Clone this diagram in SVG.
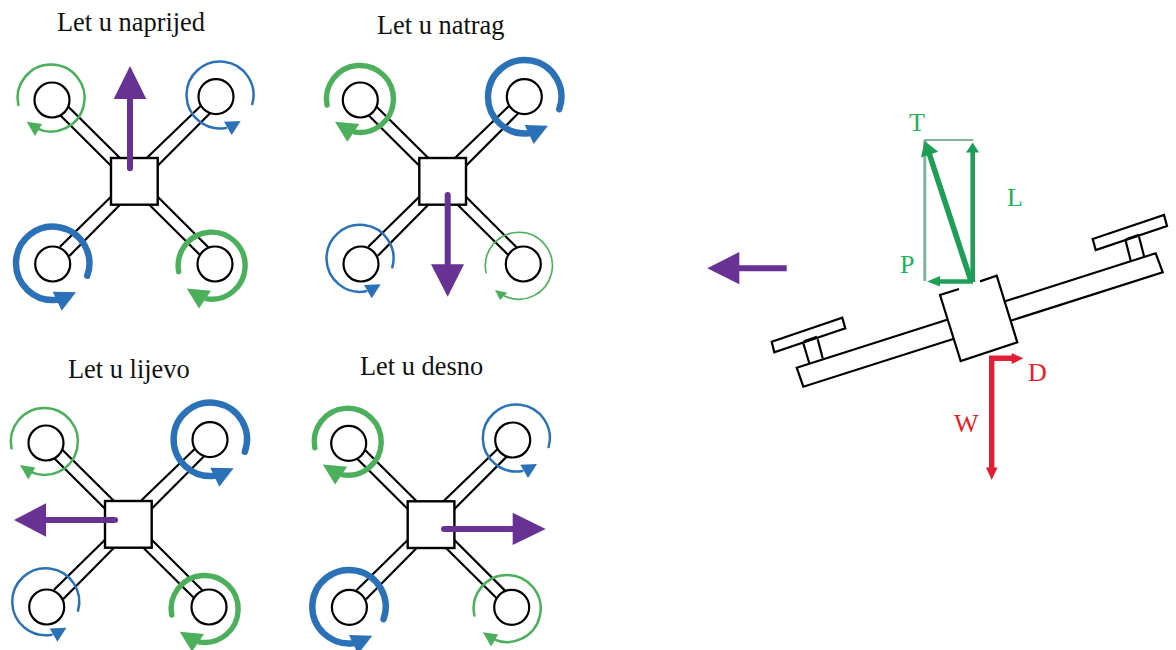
<svg xmlns="http://www.w3.org/2000/svg" xmlns:xlink="http://www.w3.org/1999/xlink" width="1176" height="650" viewBox="0 0 1176 650">
<style>
text{font-family:"Liberation Serif","Times New Roman",serif}
.title{font-size:26.4px;fill:#111}
.k{fill:none;stroke:#000;stroke-width:2.2}
.w{fill:#fff;stroke:#000;stroke-width:2.2}
.sq{fill:#fff;stroke:#000;stroke-width:2.4}
.arc{fill:none;stroke:currentColor;stroke-linecap:round}
.hd{fill:currentColor}
.g{color:#4caf5c}
.b{color:#2b71b8}
.s0{stroke-width:1.6}
.s1{stroke-width:2.5}
.s2{stroke-width:5.4}
.s3{stroke-width:6.4}
.pl{stroke:#673293;stroke-width:6;fill:none;stroke-linecap:round}
.ph{fill:#673293}
.gt{font-size:26px;fill:#22b05a}
.rt{font-size:26px;fill:#ed1c24}
.gl{stroke:#1f9e57;fill:none}
.gh{fill:#1f9e57}
.rl{stroke:#e01e36;stroke-width:5.4;fill:none}
.rh{fill:#e01e36}
</style>
<defs>
<g id="frame">
<path class="k" d="M68.3 106.7L120 158M60 115L111 165.7M146.7 158L201.7 105M157.7 165.7L210 113.3M111 196.7L60 246.7M120 204.7L69.3 256M149.3 204.7L200 255M157.7 196.7L208.3 247.3"/>
<rect class="sq" x="111" y="158" width="46.7" height="46.7"/>
<circle class="w" cx="52" cy="100" r="17.5"/>
<circle class="w" cx="216" cy="96.7" r="17.5"/>
<circle class="w" cx="52.7" cy="264" r="17.5"/>
<circle class="w" cx="215" cy="264" r="17.5"/>
</g>
<g id="gHair"><path class="arc" d="M-33.4 6.7A33.5 33.5 0 1 1-15 30"/><polygon class="hd" points="-24.5,24 -19.5,34 -12.2,26.7"/></g>
<g id="gThin"><path class="arc" d="M-33.4 6.7A33.5 33.5 0 1 1-15 30"/><polygon class="hd" points="-25,23.4 -16.7,37.7 -9.7,25.7"/></g>
<g id="gThick"><path class="arc" d="M-33 6A33.5 33.5 0 1 1-5 33.1"/><polygon class="hd" points="-25,22.7 -12.7,42.7 -0.7,25"/></g>
<g id="bThin"><path class="arc" d="M32.3 9A33.5 33.5 0 1 0 6 33"/><polygon class="hd" points="20.7,26 4,26.7 11.7,40"/></g>
<g id="bThick"><path class="arc" d="M34.5 12.5A36.7 36.7 0 1 0 4 36.5"/><polygon class="hd" points="23.3,29 0,28.4 9,47.4"/></g>
</defs>
<rect width="1176" height="650" fill="#fff"/>

<g id="quad-naprijed">
<text class="title" x="57" y="31">Let u naprijed</text>
<use href="#frame"/>
<use href="#gThin" x="51.7" y="98.3" class="g s1"/>
<use href="#bThin" x="220" y="95" class="b s1"/>
<use href="#bThick" x="52.7" y="263.3" class="b s3"/>
<use href="#gThick" x="211.7" y="265.7" class="g s2"/>
</g>
<g id="quad-natrag">
<text class="title" x="377" y="34">Let u natrag</text>
<use href="#frame" x="308.3"/>
<use href="#gThick" x="360" y="99" class="g s2"/>
<use href="#bThick" x="524.7" y="96.7" class="b s3"/>
<use href="#bThin" x="360" y="258.3" class="b s1"/>
<use href="#gHair" x="519.5" y="266" class="g s0"/>
</g>
<g id="quad-lijevo">
<text class="title" x="68" y="378">Let u lijevo</text>
<use href="#frame" x="-6" y="343"/>
<use href="#gThin" x="45" y="441.7" class="g s1"/>
<use href="#bThick" x="210.3" y="439.3" class="b s3"/>
<use href="#bThin" x="45.7" y="601.7" class="b s1"/>
<use href="#gThick" x="204.7" y="609" class="g s2"/>
</g>
<g id="quad-desno">
<text class="title" x="360" y="375">Let u desno</text>
<use href="#frame" x="296.7" y="343.3"/>
<use href="#gThick" x="347.8" y="441.8" class="g s2"/>
<use href="#bThin" x="516.3" y="438" class="b s1"/>
<use href="#bThick" x="349" y="606.7" class="b s3"/>
<use href="#gThin" x="507.8" y="608.8" class="g s1"/>
</g>

<g id="side-drone">
<polygon class="w" points="796.7,367.7 1155.7,253.3 1162.7,272.3 803.3,386.7"/>
<polygon fill="#fff" points="940,295 996.7,275.7 1017.3,342.3 960.7,361"/>
<path class="k" d="M959 289L940 295L960.7 361L1017.3 342.3L996.7 275.7L980 281.4"/>
<polygon class="w" points="771.7,341.7 842.3,317.7 845.3,328.3 774.3,352.3"/>
<path class="k" d="M803.3 343.3L809.3 363.3M817.7 339.3L822.7 358.3"/>
<path d="M804 341.5L817 337" stroke="#000" stroke-width="2.6" fill="none"/>
<polygon class="w" points="1092.7,239 1164,215 1167,226 1095.7,250"/>
<path class="k" d="M1125.7 241L1130.7 260.7M1139 236.7L1144 256"/>
<path d="M1126 239.5L1139 235" stroke="#000" stroke-width="2.6" fill="none"/>
</g>

<g id="connectors">
<g id="motion-arrows">
<path class="pl" d="M130 168.3V97"/><polygon class="ph" points="130,66 113.7,99 146.3,99"/>
<path class="pl" d="M447.7 195V266"/><polygon class="ph" points="447.7,296.7 431,264.3 464,264.3"/>
<path class="pl" d="M115 520H44"/><polygon class="ph" points="14,520 46,503.3 46,536.7"/>
<path class="pl" d="M444 529H515"/><polygon class="ph" points="545.7,529 512.7,512.7 512.7,545"/>
<path d="M786.7 268.3H737" stroke="#673293" stroke-width="6" fill="none"/><polygon class="ph" points="707.3,268.3 739.3,252 739.3,284.3"/>
</g>
<g id="force-green">
<path d="M924.3 140H973.3" stroke="#5a9a70" stroke-width="1.5" fill="none"/>
<path d="M924.8 140V281" stroke="#7fb59a" stroke-width="3" fill="none"/>
<path class="gl" stroke-width="4.6" d="M972.7 282V148"/><polygon class="gh" points="972.7,142.5 966,152.5 979,152.5"/>
<path class="gl" stroke-width="5.6" d="M971 281L928 150"/><polygon class="gh" points="924.5,141 921,157.5 938.3,151.7"/>
<path class="gl" stroke-width="4.4" d="M973 281.5H935"/><polygon class="gh" points="927,281.5 940,276 940,286.5"/>
</g>
<g id="force-red">
<path class="rl" d="M991.7 470V358.3H1015"/>
<polygon class="rh" points="991.7,480 986,467.5 997.5,467.5"/>
<polygon class="rh" points="1023.3,358.3 1011.7,353 1011.7,364"/>
</g>
</g>
<g id="force-labels">
<text class="gt" x="909" y="131">T</text>
<text class="gt" x="1007" y="206">L</text>
<text class="gt" x="900" y="273">P</text>
<text class="rt" x="1028" y="381">D</text>
<text class="rt" x="954" y="432">W</text>
</g>
</svg>
